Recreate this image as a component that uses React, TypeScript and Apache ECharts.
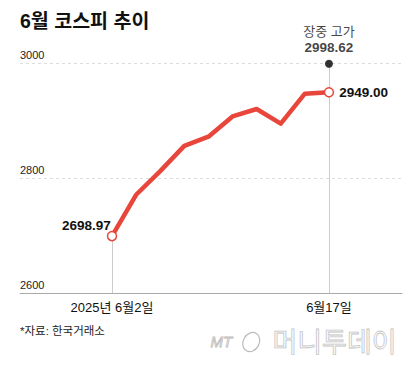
import React, { useEffect, useRef } from "react";
import * as echarts from "echarts";

const dates = ["6/2", "6/4", "6/5", "6/9", "6/10", "6/11", "6/12", "6/13", "6/16", "6/17"];
const closes = [2698.97, 2770.84, 2812.05, 2855.77, 2871.85, 2907.04, 2920.03, 2894.62, 2946.66, 2949.0];
const intradayHigh = 2998.62;
const highLabel = "장중 고가";
const xLabelIndex = [0, 9];
const xLabelText = ["2025년 6월2일", "6월17일"];
const yTicks = [2600, 2800, 3000];
const title = "6월 코스피 추이";
const source = "*자료: 한국거래소";

const FONT = "'Liberation Sans', 'Noto Sans CJK KR', sans-serif";
const RED = "#e8463b";

export default function App() {
  const ref = useRef<HTMLDivElement>(null);
  useEffect(() => {
    if (!ref.current) return;
    const chart = echarts.init(ref.current, undefined, { renderer: "svg" });
    const last = closes.length - 1;
    const lineData = closes.map((v, i) => {
      const isEnd = i === 0 || i === last;
      const item: any = { name: dates[i], value: [i, v], symbol: isEnd ? "circle" : "none", symbolSize: 9 };
      if (i === 0) {
        item.label = { show: true, position: "left", distance: 0, offset: [4, -11] };
      } else if (i === last) {
        item.label = { show: true, position: "right", distance: 5, offset: [0, 0] };
      }
      return item;
    });
    chart.setOption({
      animation: false,
      textStyle: { fontFamily: FONT },
      grid: { left: 20, right: 18, top: 63, bottom: 78 },
      xAxis: {
        type: "value",
        min: -3.816,
        max: 12.03,
        axisLine: { show: true, lineStyle: { color: "#aaaaaa", width: 1 } },
        axisTick: { show: false },
        splitLine: { show: false },
        axisLabel: {
          customValues: xLabelIndex,
          formatter: (v: number) => {
            const k = xLabelIndex.indexOf(Math.round(v));
            return k >= 0 ? xLabelText[k] : "";
          },
          fontSize: 13,
          color: "#111",
          margin: 8,
          fontFamily: FONT,
        },
      },
      yAxis: {
        type: "value",
        min: yTicks[0],
        max: yTicks[yTicks.length - 1],
        interval: 200,
        axisLine: { show: false },
        axisTick: { show: false },
        splitLine: { show: true, lineStyle: { color: "#dddddd", type: [3, 3], width: 1 } },
        axisLabel: {
          inside: true,
          margin: 0,
          align: "left",
          verticalAlign: "bottom",
          padding: [0, 0, 3, 0],
          fontSize: 11,
          color: "#222",
          fontFamily: FONT,
          formatter: (v: number) => String(v),
        },
      },
      series: [
        {
          type: "line",
          data: lineData,
          lineStyle: { color: RED, width: 4.5, join: "round" },
          itemStyle: { color: "#ffffff", borderColor: RED, borderWidth: 1.5 },
          label: {
            show: false,
            formatter: (p: any) => p.value[1].toFixed(2),
            fontSize: 13.5,
            fontWeight: "bold",
            color: "#111",
            fontFamily: FONT,
          },
          z: 3,
          markLine: {
            silent: true,
            symbol: ["none", "none"],
            label: { show: false },
            lineStyle: { color: "#cccccc", type: "solid", width: 1 },
            data: [
              [{ coord: [0, closes[0]] }, { coord: [0, yTicks[0]] }],
              [{ coord: [last, intradayHigh] }, { coord: [last, yTicks[0]] }],
            ],
            z: 1,
          },
        },
        {
          type: "scatter",
          data: [[last, intradayHigh]],
          symbolSize: 8,
          itemStyle: { color: "#000" },
          z: 4,
          label: {
            show: true,
            position: "top",
            distance: 4,
            formatter: (p: any) => `{a|${highLabel}}\n{b|${p.value[1].toFixed(2)}}`,
            rich: {
              a: { fontSize: 13, lineHeight: 17, color: "#111", fontFamily: FONT, align: "center" },
              b: { fontSize: 13.5, lineHeight: 16, fontWeight: "bold", color: "#111", fontFamily: FONT, align: "center" },
            },
          },
        },
      ],
      graphic: [
        {
          type: "text",
          left: 20,
          top: 11,
          style: { text: title, fontSize: 19.5, fontWeight: "bold", fill: "#111", fontFamily: FONT },
        },
        {
          type: "text",
          left: 20,
          top: 325,
          style: { text: source, fontSize: 11.5, fill: "#222", fontFamily: FONT },
        },
        {
          type: "text",
          left: 210,
          top: 334,
          style: { text: "MT", fontSize: 15, fontStyle: "italic", fill: "none", stroke: "#bbbbbb", lineWidth: 0.8, fontFamily: FONT },
        },
        {
          type: "ellipse",
          shape: { cx: 251, cy: 342, rx: 8, ry: 10 },
          rotation: -0.5,
          originX: 251,
          originY: 342,
          style: { fill: "none", stroke: "#bbbbbb", lineWidth: 1.2 },
        },
        {
          type: "text",
          left: 272,
          top: 327,
          style: { text: "머니투데이", fontSize: 27, fill: "none", stroke: "#c4c4c4", lineWidth: 0.8, fontFamily: "'Noto Sans CJK KR', sans-serif" },
        },
      ],
    });
    return () => chart.dispose();
  }, []);
  return <div ref={ref} style={{ position: "fixed", left: 0, top: 0, width: 420, height: 371, background: "#fff" }} />;
}
